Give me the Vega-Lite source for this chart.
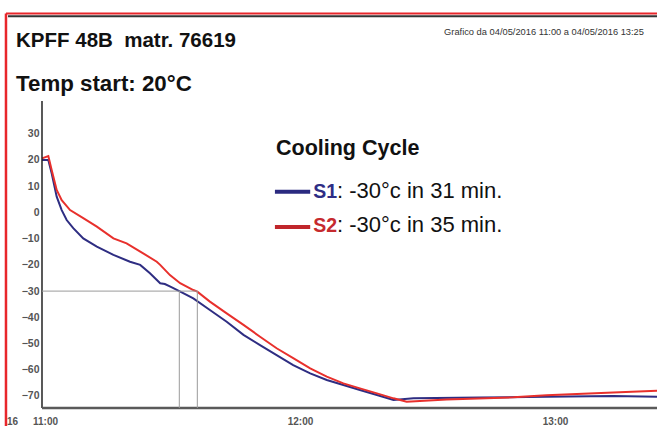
{
  "$schema": "https://vega.github.io/schema/vega-lite/v6.json",
  "width": 657,
  "height": 426,
  "autosize": {"type": "none"},
  "padding": 0,
  "background": "white",
  "config": {"view": {"stroke": null}, "font": "Liberation Sans"},
  "data": {"values": [{}]},
  "datasets": {
    "curves": [
      {"series": "S1", "min": -0.7, "temp": 20},
      {"series": "S1", "min": 0.78, "temp": 20},
      {"series": "S1", "min": 1.57, "temp": 14.9},
      {"series": "S1", "min": 2.75, "temp": 6},
      {"series": "S1", "min": 3.93, "temp": 0.9},
      {"series": "S1", "min": 5.1, "temp": -2.9},
      {"series": "S1", "min": 6.65, "temp": -6},
      {"series": "S1", "min": 9.0, "temp": -9.9},
      {"series": "S1", "min": 12.2, "temp": -13},
      {"series": "S1", "min": 16.1, "temp": -16.2},
      {"series": "S1", "min": 20, "temp": -18.8},
      {"series": "S1", "min": 22.4, "temp": -20},
      {"series": "S1", "min": 24.7, "temp": -23.2},
      {"series": "S1", "min": 27.1, "temp": -27},
      {"series": "S1", "min": 28.2, "temp": -27.3},
      {"series": "S1", "min": 29.5, "temp": -28.3},
      {"series": "S1", "min": 31.6, "temp": -30},
      {"series": "S1", "min": 34.9, "temp": -32.8},
      {"series": "S1", "min": 38.8, "temp": -37.2},
      {"series": "S1", "min": 42.75, "temp": -41.7},
      {"series": "S1", "min": 46.7, "temp": -46.7},
      {"series": "S1", "min": 50.6, "temp": -50.6},
      {"series": "S1", "min": 54.5, "temp": -54.4},
      {"series": "S1", "min": 58.4, "temp": -58.2},
      {"series": "S1", "min": 62.4, "temp": -61.4},
      {"series": "S1", "min": 66.3, "temp": -63.9},
      {"series": "S1", "min": 70.2, "temp": -65.8},
      {"series": "S1", "min": 74.1, "temp": -67.7},
      {"series": "S1", "min": 78.1, "temp": -69.6},
      {"series": "S1", "min": 82.0, "temp": -71.5},
      {"series": "S1", "min": 86.7, "temp": -70.9},
      {"series": "S1", "min": 102.4, "temp": -70.6},
      {"series": "S1", "min": 118.0, "temp": -70.3},
      {"series": "S1", "min": 133.7, "temp": -70},
      {"series": "S1", "min": 144, "temp": -70.3},
      {"series": "S2", "min": -0.7, "temp": 20.6},
      {"series": "S2", "min": 0.78, "temp": 21.5},
      {"series": "S2", "min": 1.57, "temp": 16.2},
      {"series": "S2", "min": 2.75, "temp": 8.6},
      {"series": "S2", "min": 3.93, "temp": 4.7},
      {"series": "S2", "min": 5.9, "temp": 0.9},
      {"series": "S2", "min": 9.0, "temp": -2.2},
      {"series": "S2", "min": 12.2, "temp": -5.4},
      {"series": "S2", "min": 16.1, "temp": -9.9},
      {"series": "S2", "min": 19.2, "temp": -11.8},
      {"series": "S2", "min": 23.1, "temp": -15.6},
      {"series": "S2", "min": 26.3, "temp": -18.8},
      {"series": "S2", "min": 27.1, "temp": -20},
      {"series": "S2", "min": 29.4, "temp": -23.9},
      {"series": "S2", "min": 31.8, "temp": -27},
      {"series": "S2", "min": 34.9, "temp": -29.6},
      {"series": "S2", "min": 35.84, "temp": -30.2},
      {"series": "S2", "min": 38.8, "temp": -34},
      {"series": "S2", "min": 42.75, "temp": -38.5},
      {"series": "S2", "min": 46.7, "temp": -42.9},
      {"series": "S2", "min": 50.6, "temp": -47.4},
      {"series": "S2", "min": 54.5, "temp": -51.8},
      {"series": "S2", "min": 58.4, "temp": -55.6},
      {"series": "S2", "min": 62.4, "temp": -59.5},
      {"series": "S2", "min": 66.3, "temp": -62.6},
      {"series": "S2", "min": 70.2, "temp": -65.2},
      {"series": "S2", "min": 74.1, "temp": -67.1},
      {"series": "S2", "min": 78.1, "temp": -69},
      {"series": "S2", "min": 82.0, "temp": -70.9},
      {"series": "S2", "min": 85.1, "temp": -72.2},
      {"series": "S2", "min": 94.5, "temp": -71.3},
      {"series": "S2", "min": 110.2, "temp": -70.5},
      {"series": "S2", "min": 118.0, "temp": -69.7},
      {"series": "S2", "min": 133.7, "temp": -68.7},
      {"series": "S2", "min": 144, "temp": -68}
    ]
  },
  "layer": [
    {
      "data": {"name": "curves"},
      "mark": {"type": "line", "strokeWidth": 2, "interpolate": "linear"},
      "encoding": {
        "x": {"field": "min", "type": "quantitative",
          "scale": {"domain": [-10.588, 144], "nice": false, "zero": false},
          "axis": {"orient": "bottom", "offset": -18, "values": [-7.76, 0, 60, 120],
            "labelExpr": "datum.value == 0 ? '11:00' : datum.value == 60 ? '12:00' : datum.value == 120 ? '13:00' : '16'",
            "domain": false, "ticks": false, "tickSize": 0, "grid": false, "labelPadding": 8,
            "labelFont": "Liberation Sans Narrow, Arial Narrow, Liberation Sans, sans-serif", "labelFontWeight": "bold", "labelFontSize": 10,
            "labelColor": "#555555", "labelFlush": false, "labelOverlap": false, "title": null}},
        "y": {"field": "temp", "type": "quantitative",
          "scale": {"domain": [-81.45, 81.02], "nice": false, "zero": false},
          "axis": {"orient": "left", "offset": -42, "values": [30, 20, 10, 0, -10, -20, -30, -40, -50, -60, -70],
            "domain": false, "ticks": false, "tickSize": 0, "grid": false, "labelPadding": 3,
            "labelFont": "Liberation Sans Narrow, Arial Narrow, Liberation Sans, sans-serif", "labelFontWeight": "bold", "labelFontSize": 10.5,
            "labelColor": "#555555", "labelOverlap": false, "title": null}},
        "color": {"field": "series", "type": "nominal",
          "scale": {"domain": ["S1", "S2"], "range": ["#2e2d82", "#e8302c"]}, "legend": null},
        "detail": {"field": "series"}
      }
    },
    {
      "mark": {"type": "rule", "color": "#e8262b", "strokeWidth": 2.5},
      "encoding": {"x": {"datum": -9.18, "type": "quantitative"}, "y": {"datum": 75.87, "type": "quantitative"}, "y2": {"datum": -81.45}}
    },
    {
      "mark": {"type": "rule", "color": "#e8262b", "strokeWidth": 2.2},
      "encoding": {"x": {"datum": -9.18, "type": "quantitative"}, "x2": {"datum": 144}, "y": {"datum": 75.87, "type": "quantitative"}}
    },
    {
      "mark": {"type": "rule", "color": "#333333", "strokeWidth": 2},
      "encoding": {"x": {"datum": -8.7, "type": "quantitative"}, "x2": {"datum": 144}, "y": {"datum": 74.8, "type": "quantitative"}}
    },
    {
      "mark": {"type": "rule", "color": "#222222", "strokeWidth": 1.5},
      "encoding": {"x": {"datum": -0.706, "type": "quantitative"}, "y": {"datum": 42.5, "type": "quantitative"}, "y2": {"datum": -74.58}}
    },
    {
      "mark": {"type": "rule", "color": "#5a5a5a", "strokeWidth": 2.5},
      "encoding": {"x": {"datum": -0.706, "type": "quantitative"}, "x2": {"datum": 144}, "y": {"datum": -74.58, "type": "quantitative"}}
    },
    {
      "mark": {"type": "rule", "color": "#9a9a9a", "strokeWidth": 1},
      "encoding": {"x": {"datum": -0.706, "type": "quantitative"}, "x2": {"datum": 35.84}, "y": {"datum": -30, "type": "quantitative"}}
    },
    {
      "mark": {"type": "rule", "color": "#9a9a9a", "strokeWidth": 1},
      "encoding": {"x": {"datum": 31.6, "type": "quantitative"}, "y": {"datum": -30, "type": "quantitative"}, "y2": {"datum": -74.58}}
    },
    {
      "mark": {"type": "rule", "color": "#9a9a9a", "strokeWidth": 1},
      "encoding": {"x": {"datum": 35.84, "type": "quantitative"}, "y": {"datum": -30, "type": "quantitative"}, "y2": {"datum": -74.58}}
    },
    {
      "mark": {"type": "rule", "color": "#2b2a80", "strokeWidth": 4},
      "encoding": {"x": {"datum": 54.1, "type": "quantitative"}, "x2": {"datum": 62.4}, "y": {"datum": 7.91, "type": "quantitative"}}
    },
    {
      "mark": {"type": "rule", "color": "#c0262b", "strokeWidth": 4},
      "encoding": {"x": {"datum": 54.1, "type": "quantitative"}, "x2": {"datum": 62.4}, "y": {"datum": -5.55, "type": "quantitative"}}
    },
    {
      "mark": {"type": "text", "text": "KPFF 48B\u00a0 matr. 76619", "align": "left", "baseline": "alphabetic", "fontSize": 20.5, "fontWeight": "bold", "color": "#111111"},
      "encoding": {"x": {"datum": -6.82, "type": "quantitative"}, "y": {"datum": 63.2, "type": "quantitative"}}
    },
    {
      "mark": {"type": "text", "text": "Temp start: 20°C", "align": "left", "baseline": "alphabetic", "fontSize": 22.3, "fontWeight": "bold", "color": "#111111"},
      "encoding": {"x": {"datum": -6.82, "type": "quantitative"}, "y": {"datum": 46.4, "type": "quantitative"}}
    },
    {
      "mark": {"type": "text", "text": "Grafico da 04/05/2016 11:00 a 04/05/2016 13:25", "align": "left", "baseline": "alphabetic", "fontSize": 9.3, "font": "Liberation Sans Narrow, Arial Narrow, Liberation Sans, sans-serif", "color": "#333333"},
      "encoding": {"x": {"datum": 93.9, "type": "quantitative"}, "y": {"datum": 67.7, "type": "quantitative"}}
    },
    {
      "mark": {"type": "text", "text": "Cooling Cycle", "align": "left", "baseline": "alphabetic", "fontSize": 21.5, "fontWeight": "bold", "color": "#111111"},
      "encoding": {"x": {"datum": 54.35, "type": "quantitative"}, "y": {"datum": 21.9, "type": "quantitative"}}
    },
    {
      "mark": {"type": "text", "text": "S1", "align": "left", "baseline": "alphabetic", "fontSize": 19.5, "fontWeight": "bold", "color": "#2e2d85"},
      "encoding": {"x": {"datum": 63.13, "type": "quantitative"}, "y": {"datum": 5.39, "type": "quantitative"}}
    },
    {
      "mark": {"type": "text", "text": ": -30°c in 31 min.", "align": "left", "baseline": "alphabetic", "fontSize": 22, "color": "#111111"},
      "encoding": {"x": {"datum": 68.7, "type": "quantitative"}, "y": {"datum": 5.39, "type": "quantitative"}}
    },
    {
      "mark": {"type": "text", "text": "S2", "align": "left", "baseline": "alphabetic", "fontSize": 19.5, "fontWeight": "bold", "color": "#c62a2e"},
      "encoding": {"x": {"datum": 63.13, "type": "quantitative"}, "y": {"datum": -7.35, "type": "quantitative"}}
    },
    {
      "mark": {"type": "text", "text": ": -30°c in 35 min.", "align": "left", "baseline": "alphabetic", "fontSize": 22, "color": "#111111"},
      "encoding": {"x": {"datum": 68.7, "type": "quantitative"}, "y": {"datum": -7.35, "type": "quantitative"}}
    }
  ]
}
